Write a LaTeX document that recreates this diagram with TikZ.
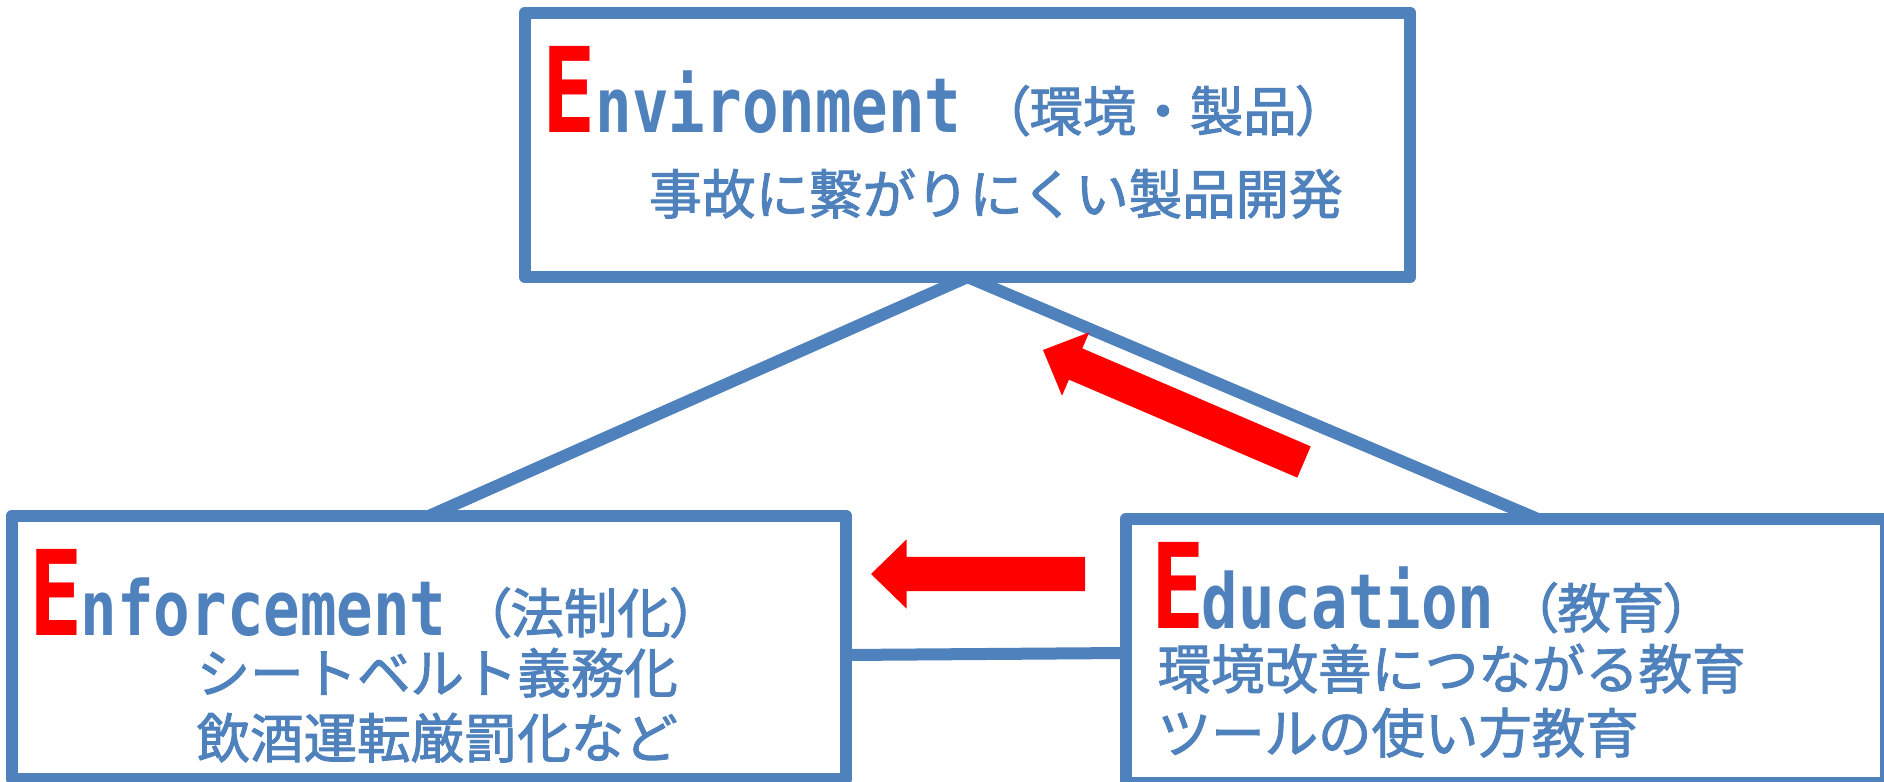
\documentclass[tikz,border=0pt]{standalone}
\usepackage{fontspec}
\newfontfamily\jpfont{Noto Sans CJK JP}[FakeBold=1.8]
\newfontfamily\jpnarrow{Noto Sans CJK JP}[RawFeature=+palt,FakeBold=1.8]
\newfontfamily\latfont{DejaVu Sans Mono}
\usetikzlibrary{calc}
\definecolor{eblue}{RGB}{79,129,189}
\newcommand{\squeeze}[2]{\scalebox{#1}[1]{#2}}
\newcommand{\blockarrow}[2]{%
  \coordinate (ab) at ($(#2)!0.355cm!(#1)$);
  \fill[red] ($(#1)!0.17cm!90:(#2)$) -- ($(ab)!0.17cm!90:(#2)$)
    -- ($(ab)!0.345cm!90:(#2)$) -- (#2)
    -- ($(ab)!0.345cm!-90:(#2)$) -- ($(ab)!0.17cm!-90:(#2)$)
    -- ($(#1)!0.17cm!-90:(#2)$) -- cycle;
}
\tikzset{
  ebox/.style={draw=eblue,line width=0.12cm,line join=round,rectangle,inner sep=0,outer sep=0},
  link/.style={draw=eblue,line width=0.12cm},
  bigE/.style={anchor=base west,inner sep=0,text depth=0pt,text=red,font=\latfont\bfseries\fontsize{33.6}{40}\selectfont},
  word/.style={anchor=base west,inner sep=0,text depth=0pt,text=eblue,font=\latfont\bfseries\fontsize{21.6}{26}\selectfont},
  jtext/.style={anchor=base west,inner sep=0,text=eblue,font=\jpfont\fontsize{15.2}{18}\selectfont}
}
\begin{document}
\begin{tikzpicture}[x=0.01cm,y=-0.01cm]
\useasboundingbox (0,0) rectangle (1884,782);
\fill[white] (0,0) rectangle (1884,782);

\node[ebox,minimum width=8.85cm,minimum height=2.64cm] (env) at (967.5,145) {};
\node[ebox,minimum width=8.34cm,minimum height=2.63cm] (enf) at (429,647.5) {};
\node[ebox,minimum width=7.60cm,minimum height=2.64cm] (edu) at (1506,651) {};

\draw[link] (env.south) -- (enf.north);
\draw[link] (env.south) -- ($(edu.north west)+(412,0)$);
\draw[link] ($(enf.east)+(0,7.5)$) -- ($(edu.west)+(0,2)$);

\coordinate (up tail)   at (1304,462);
\coordinate (up tip)    at (1043,350);
\coordinate (left tail) at (1085,574);
\coordinate (left tip)  at (871,574);
\blockarrow{up tail}{up tip}
\blockarrow{left tail}{left tip}

\node[bigE] (envE)    at (542,133)  {\squeeze{0.75}{E}};
\node[word] (envword) at (595,133)  {\squeeze{0.8}{nvironment}};
\node[jtext] (envpar) at (1002,131) {{\jpnarrow （}環境・製品{\jpnarrow ）}};
\node[jtext] (envline) at (648,214) {事故に繋がりにくい製品開発};

\node[bigE] (enfE)    at (29,635)   {\squeeze{0.75}{E}};
\node[word] (enfword) at (80,635)   {\squeeze{0.8}{nforcement}};
\node[jtext] (enfpar) at (483,633)  {{\jpnarrow （}法制化{\jpnarrow ）}};
\node[jtext] (enfline1) at (196,693) {シートベルト義務化};
\node[jtext] (enfline2) at (196,758) {飲酒運転厳罰化など};

\node[bigE] (eduE)    at (1151,628) {\squeeze{0.75}{E}};
\node[word] (eduword) at (1201,628) {\squeeze{0.8}{ducation}};
\node[jtext] (edupar) at (1530,628) {{\jpnarrow （}教育{\jpnarrow ）}};
\node[jtext] (eduline1) at (1157,689) {環境改善につながる教育};
\node[jtext] (eduline2) at (1157,753) {ツールの使い方教育};

\end{tikzpicture}
\end{document}
